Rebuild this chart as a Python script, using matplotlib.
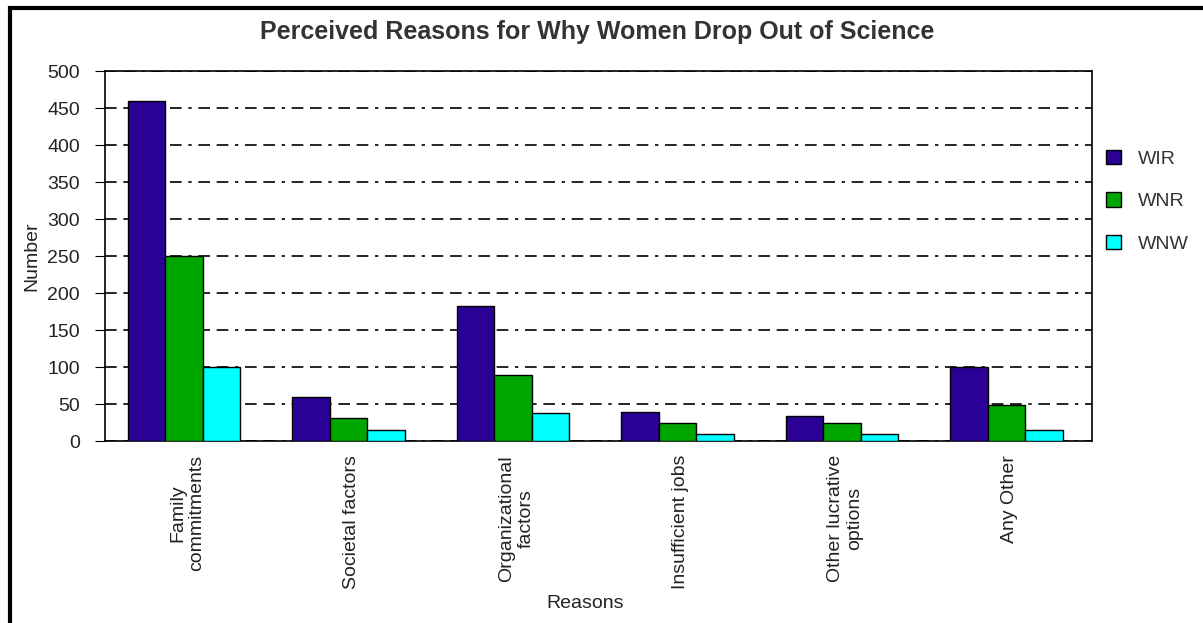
import matplotlib.pyplot as plt
import numpy as np
from matplotlib.patches import Rectangle

plt.rcParams['font.family'] = ['Liberation Sans', 'DejaVu Sans']

reasons = ["Family\ncommitments", "Societal factors", "Organizational\nfactors",
           "Insufficient jobs", "Other lucrative\noptions", "Any Other"]
wir = [460, 60, 182, 39, 34, 100]
wnr = [250, 31, 89, 25, 25, 49]
wnw = [100, 15, 38, 10, 10, 15]
series = ["WIR", "WNR", "WNW"]
colors = ["#2b0094", "#00a600", "#00ffff"]

fig = plt.figure(figsize=(12.03, 6.23), dpi=100)
ax = fig.add_axes([0.0873, 0.2921, 0.8204, 0.5939])

x = np.arange(len(reasons))
w = 0.228
for i, (vals, name, c) in enumerate(zip([wir, wnr, wnw], series, colors)):
    ax.bar(x + (i - 1) * w - 0.02, vals, w, color=c, edgecolor="black",
           linewidth=1, label=name, zorder=3)

ax.set_xlim(-0.5, len(reasons) - 0.5)
ax.set_ylim(0, 500)
ax.set_yticks(range(0, 501, 50))
ax.tick_params(axis="y", direction="out", length=7, labelsize=14, pad=11, colors="black")
ax.tick_params(axis="x", length=0, labelsize=14, pad=10)
ax.set_xticks(x)
ax.set_xticklabels(reasons, rotation=90, color="#222222")
for lab in ax.get_yticklabels():
    lab.set_color("#222222")
ax.yaxis.grid(True, color="black", linestyle=(0, (7, 4, 7, 4, 2, 4)), linewidth=1.2, zorder=0)
for s in ax.spines.values():
    s.set_linewidth(1.2)

ax.set_ylabel("Number", fontsize=14, color="#222222", va="center")
ax.yaxis.set_label_coords(-0.074, 0.5)
fig.text(0.486, 0.032, "Reasons", fontsize=14, color="#222222", ha="center", va="center")
fig.text(0.496, 0.9486, "Perceived Reasons for Why Women Drop Out of Science",
         fontsize=18, fontweight="bold", color="#333333", ha="center", va="center")

leg = fig.legend(loc="upper left", bbox_to_anchor=(0.905, 0.787), frameon=False,
                 fontsize=14, handlelength=0.75, handleheight=0.75,
                 labelspacing=1.25, handletextpad=0.9)
for t in leg.get_texts():
    t.set_color("#333333")

# outer frame of the chart
fig.patches.append(Rectangle((10 / 1203, -0.1), 1.2, 1 - 8 / 623 + 0.1,
                             transform=fig.transFigure, fill=False,
                             edgecolor="black", linewidth=3))

fig.savefig("out.png", dpi=100)
